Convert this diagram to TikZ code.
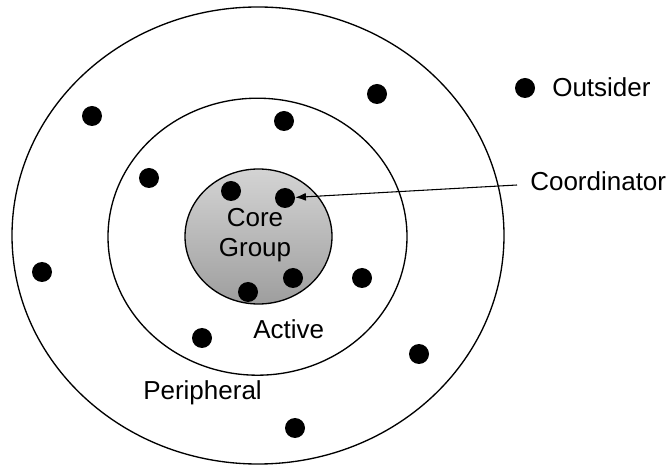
\documentclass[tikz,border=0pt]{standalone}
\usepackage{fontspec}
\setmainfont{Liberation Sans}
\usetikzlibrary{arrows.meta,positioning}

\begin{document}
\begin{tikzpicture}[
  x=0.75pt,y=-0.75pt,
  >={Latex[length=8pt,width=6pt]},
  ring/.style={draw=black,line width=1pt},
  member/.style={circle,fill=black,inner sep=0pt,minimum size=15pt},
  lbl/.style={font=\fontsize{19.5}{22}\selectfont,inner sep=0pt}
]
\useasboundingbox (0,0) rectangle (671,466);

% the three rings (outer: peripheral, middle: active, inner: core group)
\draw[ring] (258,235.5) ellipse [x radius=246,y radius=228.5];
\draw[ring] (257.5,236.7) ellipse [x radius=149.5,y radius=138.5];
\shade[ring,top color=black!17,bottom color=black!38] (258.5,236.5) ellipse [x radius=73.5,y radius=67.5];

% core group members
\node[member] (c1) at (231,191) {};
\node[member] (c2) at (285,198) {};   % coordinator
\node[member] (c3) at (293,278) {};
\node[member] (c4) at (248,292) {};

% active members
\node[member] (a1) at (284,121) {};
\node[member] (a2) at (149,178) {};
\node[member] (a3) at (362,278) {};
\node[member] (a4) at (202,338) {};

% peripheral members
\node[member] (p1) at (92,116) {};
\node[member] (p2) at (377,94) {};
\node[member] (p3) at (42,272) {};
\node[member] (p4) at (419,354) {};
\node[member] (p5) at (295,428) {};

% outsider
\node[member] (o1) at (525,88) {};

% labels
\node[lbl,anchor=base west] (outsider) at (552,97) {Outsider};
\node[lbl,anchor=base west] (coordinator) at (530,191) {Coordinator};
\node[lbl,anchor=base] (core) at (255,227) {Core};
\node[lbl,anchor=base] (group) at (255,257) {Group};
\node[lbl,anchor=base west] (active) at (253,339) {Active};
\node[lbl,anchor=base west] (peripheral) at (143,400) {Peripheral};

% pointer to the coordinator
\coordinate (cstart) at (517,185);
\draw[->,line width=0.8pt] (cstart) -- (c2);

\end{tikzpicture}
\end{document}
